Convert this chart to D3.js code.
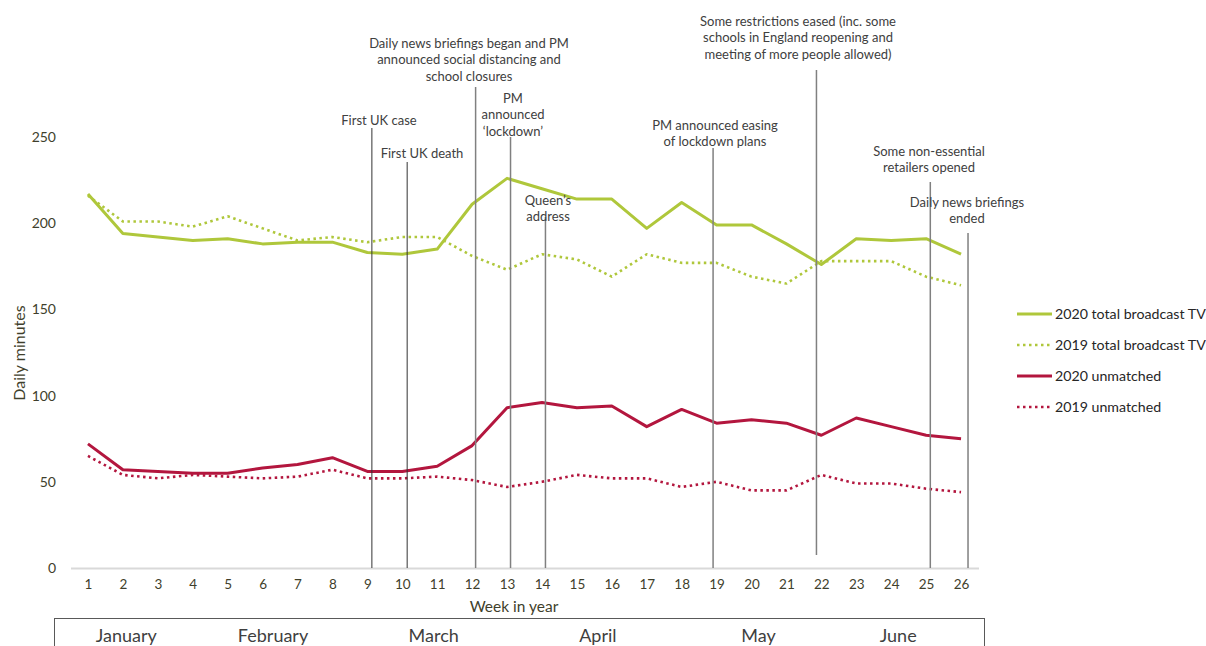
<!DOCTYPE html>
<html>
<head>
<meta charset="utf-8">
<script src="https://cdn.jsdelivr.net/npm/d3@7"></script>
<style>
  body { margin: 0; background: #fff; }
  text { font-family: Lato, "Open Sans", sans-serif; }
</style>
</head>
<body>
<svg id="chart" width="1206" height="646"></svg>
<script>
// data
var weeks = d3.range(1, 27);
var yTicks = [0, 50, 100, 150, 200, 250];

var tv2020 = [217, 194, 192, 190, 191, 188, 189, 189, 183, 182, 185, 211,
              226, 220, 214, 214, 197, 212, 199, 199, 188, 176, 191, 190, 191, 182];
var tv2019 = [216, 201, 201, 198, 204, 197, 190, 192, 189, 192, 192, 181,
              173, 182, 179, 169, 182, 177, 177, 169, 165, 178, 178, 178, 169, 164];
var un2020 = [72, 57, 56, 55, 55, 58, 60, 64, 56, 56, 59, 71,
              93, 96, 93, 94, 82, 92, 84, 86, 84, 77, 87, 82, 77, 75];
var un2019 = [65, 54, 52, 54, 53, 52, 53, 57, 52, 52, 53, 51,
              47, 50, 54, 52, 52, 47, 50, 45, 45, 54, 49, 49, 46, 44];

var seriesNames = ["2020 total broadcast TV", "2019 total broadcast TV", "2020 unmatched", "2019 unmatched"];

var months = ["January", "February", "March", "April", "May", "June"];
var monthWeek = [2.1, 6.3, 10.9, 15.6, 20.2, 24.2];

var eventWeek = [9.13, 10.14, 12.1, 13.1, 14.1, 18.9, 21.86, 25.12, 26.2];
var eventText = [
  ["First UK case"],
  ["First UK death"],
  ["Daily news briefings began and PM", "announced social distancing and", "school closures"],
  ["PM", "announced", "\u2018lockdown\u2019"],
  ["Queen\u2019s", "address"],
  ["PM announced easing", "of lockdown plans"],
  ["Some restrictions eased (inc. some", "schools in England reopening and", "meeting of more people allowed)"],
  ["Some non-essential", "retailers opened"],
  ["Daily news briefings", "ended"]
];

// layout for the event markers: line top, line bottom, label centre x, first label line y
var eventLayout = [
  {top: 128, bottom: 568, lx: 379, ly: 120, dark: true},
  {top: 162, bottom: 568, lx: 422, ly: 153, dark: true},
  {top: 87,  bottom: 568, lx: 469, ly: 43},
  {top: 137, bottom: 568, lx: 513, ly: 98},
  {top: 217, bottom: 568, lx: 548, ly: 200},
  {top: 148, bottom: 568, lx: 715, ly: 125},
  {top: 70,  bottom: 555, lx: 798, ly: 21},
  {top: 182, bottom: 568, lx: 929, ly: 151},
  {top: 233, bottom: 568, lx: 967, ly: 202}
];

var green = "#afc73b", red = "#b3163e";
var styles = [
  {color: green, dash: null, width: 3},
  {color: green, dash: "2.5,3.5", width: 2.6},
  {color: red, dash: null, width: 3},
  {color: red, dash: "2.5,3.5", width: 2.6}
];
var series = [tv2020, tv2019, un2020, un2019];

var svg = d3.select("#chart");

var x = d3.scaleLinear().domain([0.5, 26.5]).range([70.5, 978.5]);
var y = d3.scaleLinear().domain([0, 250]).range([568, 137]);

// x axis
var xAxis = svg.append("g")
    .attr("transform", "translate(0," + y(0) + ")")
    .call(d3.axisBottom(x).tickValues(weeks).tickSize(0).tickPadding(11).tickFormat(d3.format("d")));
xAxis.select(".domain").attr("stroke", "#d9d9d9").attr("stroke-width", 2);
xAxis.selectAll("text").attr("font-size", 13.5).attr("fill", "#3f3f2c").style("font-family", "Lato");

// y axis
var yAxis = svg.append("g")
    .attr("transform", "translate(60,0)")
    .call(d3.axisLeft(y).tickValues(yTicks).tickSize(0).tickPadding(4));
yAxis.select(".domain").remove();
yAxis.selectAll("text").attr("font-size", 14).attr("fill", "#3f3f2c").style("font-family", "Lato");

svg.append("text")
    .attr("transform", "translate(25,353) rotate(-90)")
    .attr("text-anchor", "middle")
    .attr("font-size", 16)
    .attr("fill", "#3f3f2c")
    .text("Daily minutes");

svg.append("text")
    .attr("x", 514).attr("y", 612)
    .attr("text-anchor", "middle")
    .attr("font-size", 15.5)
    .attr("fill", "#3f3f2c")
    .text("Week in year");

// month strip
svg.append("rect")
    .attr("x", 54.5).attr("y", 618.5)
    .attr("width", 930).attr("height", 60)
    .attr("fill", "none").attr("stroke", "#595959").attr("stroke-width", 1);

svg.selectAll(".month")
    .data(months)
    .enter().append("text")
    .attr("class", "month")
    .attr("x", function(d, i) { return x(monthWeek[i]); })
    .attr("y", 642)
    .attr("text-anchor", "middle")
    .attr("font-size", 18)
    .attr("fill", "#3f3f3f")
    .text(function(d) { return d; });

// lines
var line = d3.line()
    .x(function(d, i) { return x(weeks[i]); })
    .y(function(d) { return y(d); });

svg.selectAll(".series")
    .data(series)
    .enter().append("path")
    .attr("class", "series")
    .attr("d", line)
    .attr("fill", "none")
    .attr("stroke", function(d, i) { return styles[i].color; })
    .attr("stroke-width", function(d, i) { return styles[i].width; })
    .attr("stroke-dasharray", function(d, i) { return styles[i].dash; })
    .attr("stroke-linejoin", "round");

// event markers
var ev = svg.selectAll(".event")
    .data(eventWeek)
    .enter().append("g")
    .attr("class", "event");

ev.append("line")
    .attr("x1", function(d) { return x(d); })
    .attr("x2", function(d) { return x(d); })
    .attr("y1", function(d, i) { return eventLayout[i].top; })
    .attr("y2", function(d, i) { return eventLayout[i].bottom; })
    .attr("stroke", function(d, i) { return eventLayout[i].dark ? "#333" : "#808080"; })
    .attr("stroke-width", function(d, i) { return eventLayout[i].dark ? 1 : 1.5; });

ev.each(function(d, i) {
    var t = d3.select(this).append("text")
        .attr("text-anchor", "middle")
        .attr("font-size", 13)
        .attr("fill", "#404040");
    eventText[i].forEach(function(s, j) {
        t.append("tspan")
            .attr("x", eventLayout[i].lx)
            .attr("y", eventLayout[i].ly + 4.5 + j * 16.8)
            .text(s);
    });
});

// legend
var legend = svg.selectAll(".legend")
    .data(seriesNames)
    .enter().append("g")
    .attr("class", "legend")
    .attr("transform", function(d, i) { return "translate(1017," + (314 + i * 31) + ")"; });

legend.append("line")
    .attr("x1", 0).attr("x2", 35)
    .attr("stroke", function(d, i) { return styles[i].color; })
    .attr("stroke-width", function(d, i) { return styles[i].width; })
    .attr("stroke-dasharray", function(d, i) { return styles[i].dash; });

legend.append("text")
    .attr("x", 38).attr("y", 5)
    .attr("font-size", 14.2)
    .attr("fill", "#262626")
    .text(function(d) { return d; });
</script>
</body>
</html>
